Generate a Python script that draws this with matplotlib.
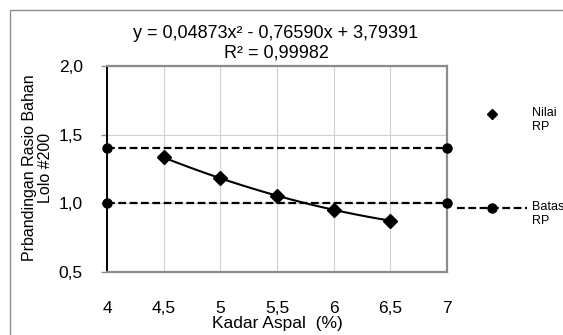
import numpy as np
import matplotlib.pyplot as plt
from matplotlib.lines import Line2D
from matplotlib.patches import Rectangle

plt.rcParams['font.family'] = ['Liberation Sans', 'DejaVu Sans']

# data
kadar_aspal = [4.5, 5.0, 5.5, 6.0, 6.5]
nilai_rp = [1.334, 1.183, 1.056, 0.953, 0.874]
batas_x = [4, 7]
batas_atas = [1.4, 1.4]
batas_bawah = [1.0, 1.0]
xticks = [4, 4.5, 5, 5.5, 6, 6.5, 7]
xticklabels = ['4', '4,5', '5', '5,5', '6', '6,5', '7']
yticks = [0.5, 1.0, 1.5, 2.0]
yticklabels = ['0,5', '1,0', '1,5', '2,0']
persamaan = "y = 0,04873x² - 0,76590x + 3,79391"
r_kuadrat = "R² = 0,99982"

W, H = 563, 335
fig = plt.figure(figsize=(W / 100, H / 100), dpi=100)
ax = fig.add_axes([0.190, 0.188, 0.604, 0.615])

# border around the chart area
fig.patches.append(Rectangle((10 / W, -0.1), 1.2, 1 - 10 / H + 0.1,
                             transform=fig.transFigure, fill=False,
                             edgecolor='#8c8c8c', lw=1.0))

# trendline (quadratic fit)
coef = np.polyfit(kadar_aspal, nilai_rp, 2)
xs = np.linspace(kadar_aspal[0], kadar_aspal[-1], 100)
ax.plot(xs, np.polyval(coef, xs), color='black', lw=1.5, zorder=3)

ax.plot(kadar_aspal, nilai_rp, linestyle='none', marker='D', markersize=7.5,
        color='black', zorder=4)

dash = (0, (3.5, 1.6))
for yy in (batas_atas, batas_bawah):
    ax.plot(batas_x, yy, color='black', lw=1.6, linestyle=dash, marker='o',
            markersize=6.5, zorder=5, clip_on=False)

ax.set_xlim(4, 7)
ax.set_ylim(0.5, 2.0)
ax.set_xticks(xticks)
ax.set_xticklabels(xticklabels)
ax.set_yticks(yticks)
ax.set_yticklabels(yticklabels)
ax.tick_params(axis='x', length=0, pad=21, labelsize=12.5)
ax.tick_params(axis='y', length=4, width=1, pad=13.5, labelsize=12.5, color='#8c8c8c')
ax.grid(True, color='#d0d0d0', lw=0.8)
ax.set_axisbelow(True)

for s in ['top', 'right', 'bottom']:
    ax.spines[s].set_color('#8c8c8c')
    ax.spines[s].set_linewidth(1.6)
ax.spines['left'].set_color('black')
ax.spines['left'].set_linewidth(1.4)

ax.set_xlabel('Kadar Aspal  (%)', fontsize=12.5, labelpad=0)

fig.text(0.066, 0.5, 'Prbandingan Rasio Bahan\nLolo #200', rotation=90,
         ha='center', va='center', fontsize=11.5, linespacing=1.1)

fig.text(276 / W, 1 - 33 / H, persamaan, ha='center', va='center', fontsize=13)
fig.text(276 / W, 1 - 53 / H, r_kuadrat, ha='center', va='center', fontsize=13)

# legend (drawn by hand so the symbols sit on the first text line)
fig.add_artist(Line2D([492 / W], [1 - 114 / H], transform=fig.transFigure,
                      linestyle='none', marker='D', markersize=5, color='black'))
fig.add_artist(Line2D([457 / W, 527 / W], [1 - 208 / H] * 2, transform=fig.transFigure,
                      linestyle=dash, lw=1.6, color='black'))
fig.add_artist(Line2D([492 / W], [1 - 208 / H], transform=fig.transFigure,
                      linestyle='none', marker='o', markersize=6.5, color='black'))
fig.text(532 / W, 1 - 107 / H, 'Nilai\nRP', ha='left', va='top', fontsize=9)
fig.text(532 / W, 1 - 201 / H, 'Batas\nRP', ha='left', va='top', fontsize=9)

fig.savefig('out.png', dpi=100)
